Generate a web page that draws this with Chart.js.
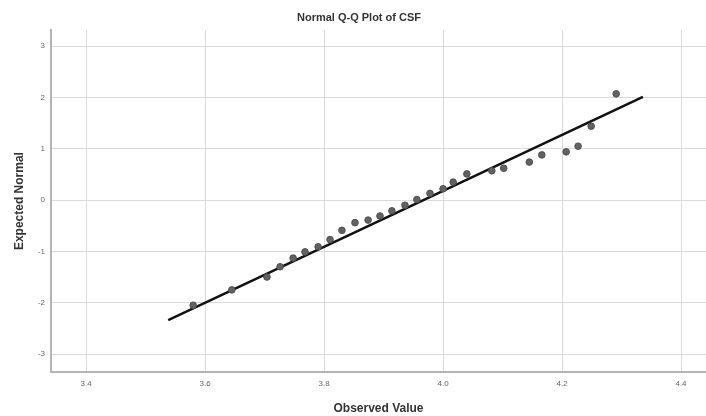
<!doctype html>
<html>
<head>
<meta charset="utf-8" />
<title>Normal Q-Q Plot of CSF</title>
<style>
  html, body { margin: 0; padding: 0; background: #ffffff; }
  #wrap { width: 706px; height: 416px; }
</style>
</head>
<body>
<div id="wrap"><canvas id="qq" width="706" height="416"></canvas></div>
<script src="https://cdn.jsdelivr.net/npm/chart.js"></script>
<script>
const observed = [3.580, 3.645, 3.704, 3.726, 3.748, 3.768, 3.790, 3.810, 3.830,
                  3.852, 3.874, 3.894, 3.914, 3.936, 3.956, 3.978, 4.000, 4.017,
                  4.040, 4.082, 4.102, 4.145, 4.166, 4.207, 4.227, 4.249, 4.291];
const expected = [-2.05, -1.75, -1.50, -1.30, -1.13, -1.01, -0.91, -0.77, -0.59,
                  -0.44, -0.39, -0.31, -0.21, -0.10, 0.01, 0.13, 0.22, 0.35,
                  0.51, 0.57, 0.62, 0.74, 0.88, 0.94, 1.05, 1.44, 2.07];

// 参考线两端
const lineX = [3.538, 4.336];
const lineY = [-2.34, 2.01];

// 刻度
const xTicks = [3.4, 3.6, 3.8, 4.0, 4.2, 4.4];
const yTicks = [-3, -2, -1, 0, 1, 2, 3];

const FONT = "'Liberation Sans', Arial, sans-serif";

const points = observed.map((x, i) => ({ x, y: expected[i] }));
const fitLine = lineX.map((x, i) => ({ x, y: lineY[i] }));

new Chart(document.getElementById('qq').getContext('2d'), {
  type: 'scatter',
  data: {
    datasets: [
      {
        type: 'line',
        label: 'fit',
        data: fitLine,
        borderColor: '#111111',
        borderWidth: 2.5,
        pointRadius: 0,
        fill: false,
        order: 2
      },
      {
        label: 'CSF',
        data: points,
        backgroundColor: '#626262',
        borderColor: '#4e4e4e',
        borderWidth: 1,
        pointRadius: 3.3,
        order: 1
      }
    ]
  },
  options: {
    responsive: false,
    animation: false,
    layout: { autoPadding: false, padding: { left: 12, right: 0, top: 0, bottom: 0 } },
    plugins: {
      legend: { display: false },
      tooltip: { enabled: false },
      title: {
        display: true,
        text: 'Normal Q-Q Plot of CSF',
        color: '#333333',
        font: { family: FONT, size: 11, weight: 'bold', lineHeight: 1.2 },
        padding: { top: 11, bottom: 6 }
      }
    },
    scales: {
      x: {
        type: 'linear',
        min: 3.341,
        max: 4.442,
        afterFit: s => { s.height = 44; s.paddingLeft = 0; s.paddingRight = 0; },
        afterBuildTicks: s => { s.ticks = xTicks.map(v => ({ value: v })); },
        grid: { color: '#dadada', lineWidth: 1, drawTicks: false },
        border: { color: '#b4b4b4', width: 2 },
        ticks: {
          padding: 7,
          color: '#666666',
          font: { family: FONT, size: 8 },
          callback: v => Number(v).toFixed(1)
        },
        title: {
          display: true,
          text: 'Observed Value',
          color: '#333333',
          font: { family: FONT, size: 12, weight: 'bold', lineHeight: 1.2 },
          padding: { top: 4, bottom: 0 }
        }
      },
      y: {
        type: 'linear',
        min: -3.35,
        max: 3.31,
        afterFit: s => { s.width = 39; s.paddingTop = 0; s.paddingBottom = 0; },
        afterBuildTicks: s => { s.ticks = yTicks.map(v => ({ value: v })); },
        grid: { color: '#dadada', lineWidth: 1, drawTicks: false },
        border: { color: '#b4b4b4', width: 2 },
        ticks: {
          padding: 6,
          color: '#666666',
          font: { family: FONT, size: 8 },
          callback: v => String(v)
        },
        title: {
          display: true,
          text: 'Expected Normal',
          color: '#333333',
          font: { family: FONT, size: 12, weight: 'bold', lineHeight: 1.2 },
          padding: { top: 0, bottom: 0 }
        }
      }
    }
  }
});
</script>
</body>
</html>
